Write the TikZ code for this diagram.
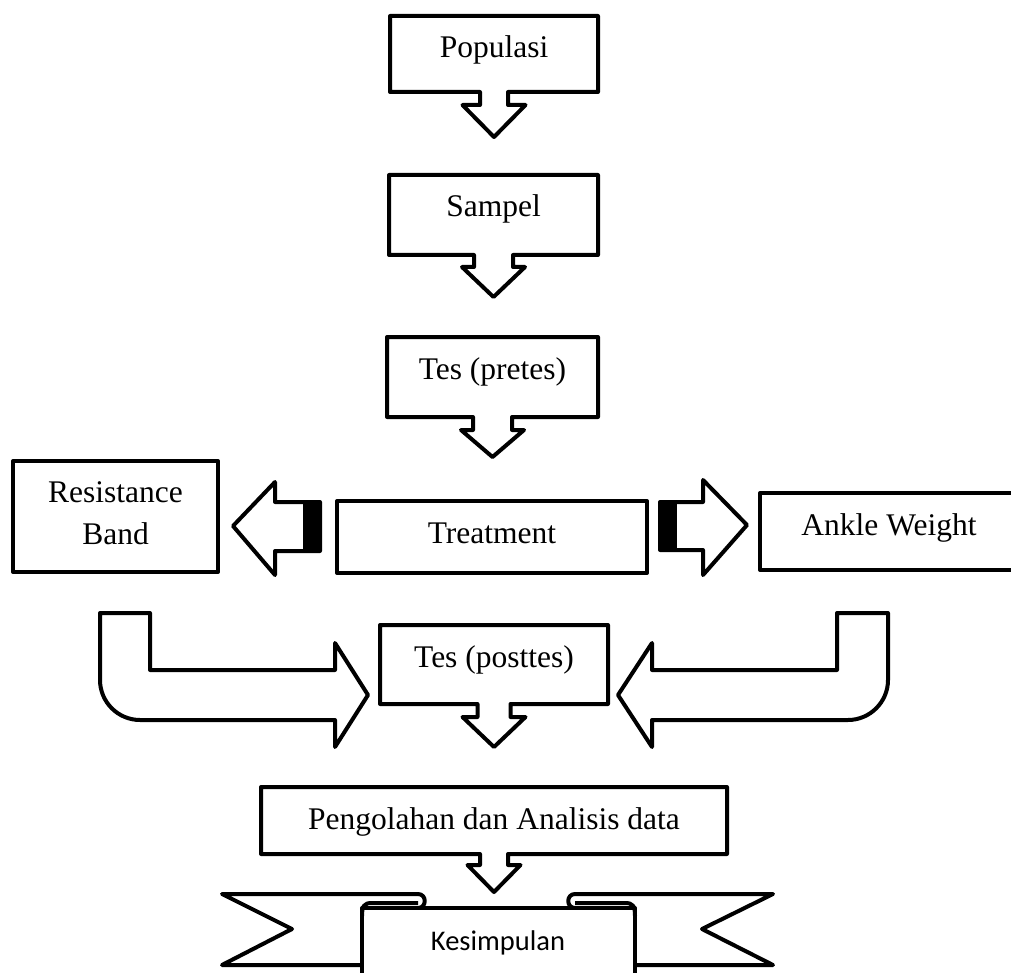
\documentclass[tikz,border=0pt]{standalone}
\usepackage{fontspec}
\setmainfont{Liberation Serif}
\newfontfamily\calibrischrift{Carlito}
\usepackage{tikz}

\tikzset{
  umriss/.style={line width=4pt, line join=round},
  kasten/.style={rectangle, inner sep=0pt, outer sep=0pt},
  text oben/.style={anchor=base, yshift=-42pt},
}

% Kasten mit angehaengtem Pfeil nach unten:
% #1 Knoten, #2 halbe Schaftbreite, #3 Schaftlaenge, #4 halbe Spitzenbreite, #5 Spitzenlaenge
\newcommand{\kastenpfeil}[5]{%
  \draw[umriss] (#1.south west) -- ([xshift=-#2pt]#1.south) -- ++(0,#3) -- ++({#2-#4},0)
    -- ++(#4,#5) -- ++(#4,-#5) -- ++({#2-#4},0) -- ++(0,-#3)
    -- (#1.south east) -- (#1.north east) -- (#1.north west) -- cycle;
}

\begin{document}
\begin{tikzpicture}[x=1pt, y=-1pt, font=\fontsize{31.5pt}{42pt}\selectfont]
\useasboundingbox (0,0) rectangle (1011,973);

% Kaesten mit Text:
\node[kasten, minimum width=208pt, minimum height=76pt, label={[text oben]north:Populasi}] (populasi) at (494,54) {};
\node[kasten, minimum width=209pt, minimum height=80pt, label={[text oben]north:Sampel}] (sampel) at (493.5,215) {};
\node[kasten, minimum width=211pt, minimum height=80pt, label={[text oben]north:{Tes (pretes)}}] (pretes) at (492.5,377) {};
\node[kasten, minimum width=310pt, minimum height=72pt, label={[text oben]north:Treatment}] (treatment) at (492,537) {};
\node[kasten, minimum width=205pt, minimum height=111pt, label={[anchor=north, inner sep=0pt, yshift=-20.5pt, align=center]north:{Resistance\\Band}}] (band) at (115.5,516.5) {};
\node[kasten, minimum width=258pt, minimum height=77pt, label={[text oben]north:{Ankle Weight}}] (ankle) at (889,531.5) {};
\node[kasten, minimum width=228pt, minimum height=79pt, label={[text oben]north:{Tes (posttes)}}] (posttes) at (494,664.5) {};
\node[kasten, minimum width=466pt, minimum height=67pt, label={[text oben]north:{Pengolahan dan Analisis data}}] (analisis) at (494,820.5) {};

% Kaesten mit Pfeil nach unten:
\kastenpfeil{populasi}{14}{13}{31.5}{32}
\kastenpfeil{sampel}{19.5}{12}{31.5}{30}
\kastenpfeil{pretes}{19.5}{13}{31.5}{27}
\kastenpfeil{posttes}{16.5}{13}{31.5}{30}
\kastenpfeil{analisis}{14}{11}{26.5}{27}

% einfache Kaesten:
\draw[umriss] (treatment.south west) rectangle (treatment.north east);
\draw[umriss] (band.south west) rectangle (band.north east);
\draw[umriss] (ankle.south west) rectangle (ankle.north east);

% Blockpfeil nach links, mit schwarzem Streifen:
\draw[umriss] ([xshift=-17pt, yshift=35pt]treatment.west) -- ++(-45,0) -- ++(0,-20) -- ++(-42,44)
  -- ++(42,49) -- ++(0,-24) -- ++(45,0) -- cycle;
\fill ([xshift=-17pt, yshift=35pt]treatment.west) rectangle ++(-17,49);
% Blockpfeil nach rechts, mit schwarzem Streifen:
\draw[umriss] ([xshift=13pt, yshift=35pt]treatment.east) -- ++(43,0) -- ++(0,-22) -- ++(44,45)
  -- ++(-44,50) -- ++(0,-25) -- ++(-43,0) -- cycle;
\fill ([xshift=13pt, yshift=35pt]treatment.east) rectangle ++(17,48);

% U-Pfeile zum Posttest:
\draw[umriss] (100,613) -- (150,613) -- (150,670) -- (335,670) -- (335,643) -- (368,695) -- (335,747)
  -- (335,720) -- (140,720) .. controls (118,720) and (100,702) .. (100,680) -- cycle;
\draw[umriss] (888,613) -- (837,613) -- (837,670) -- (652,670) -- (652,643) -- (618,695) -- (652,747)
  -- (652,720) -- (848,720) .. controls (870,720) and (888,702) .. (888,680) -- cycle;

% Band unten, zuerst die Enden:
\draw[umriss, fill=white] (362,965) -- (222,965) -- (292,929) -- (222,894) -- (418,894)
  .. controls (427,894) and (427,908) .. (418,908) -- (362,908);
\draw[umriss, fill=white] (635,965) -- (773,965) -- (702,929) -- (773,894) -- (575,894)
  .. controls (566,894) and (566,908) .. (575,908) -- (635,908);
% Mittelteil und Rollen:
\draw[umriss, fill=white] (362,990) -- (362,908) -- (635,908) -- (635,990);
\draw[umriss] (362,916) .. controls (362,906) and (364,903) .. (372,903) -- (418,903);
\draw[umriss] (635,916) .. controls (635,906) and (633,903) .. (625,903) -- (575,903);
\node[font=\calibrischrift\fontsize{28.5pt}{34pt}\selectfont, anchor=base] (kesimpulan) at (498,950) {Kesimpulan};
\end{tikzpicture}
\end{document}
